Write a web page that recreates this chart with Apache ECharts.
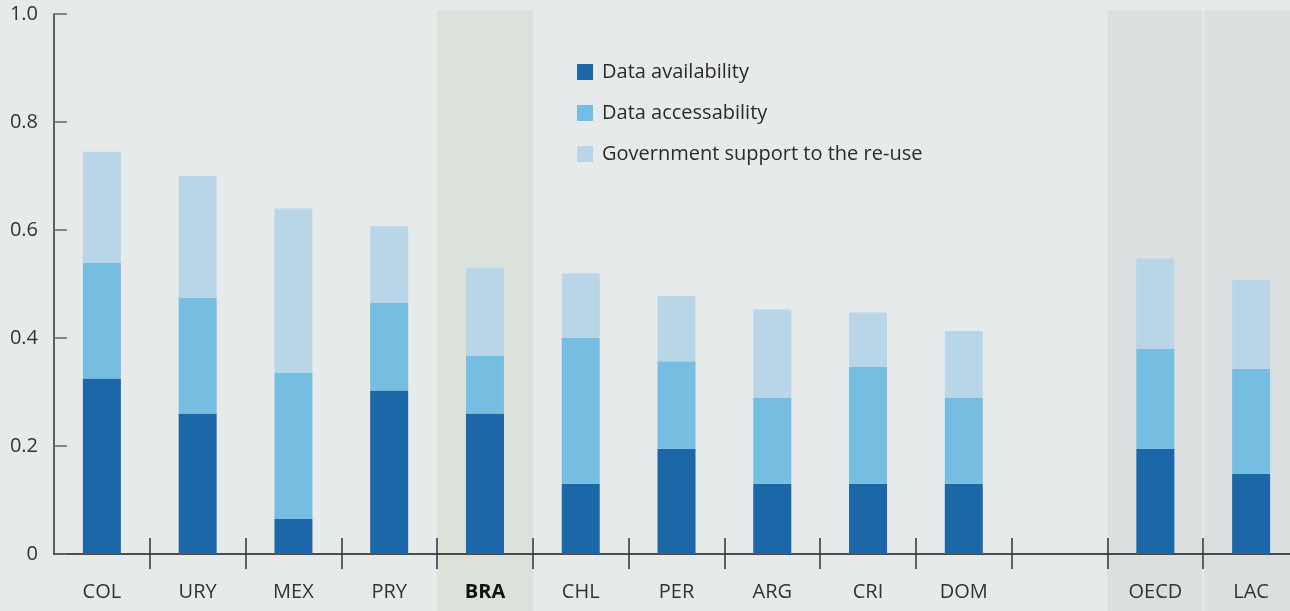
<!DOCTYPE html>
<html>
<head>
<meta charset="utf-8">
<script src="https://cdn.jsdelivr.net/npm/echarts@6/dist/echarts.min.js"></script>
<style>
  html, body { margin: 0; padding: 0; background: #e6eaeb; overflow: hidden; }
  /* plot runs a few pixels past the right edge, as in the original */
  #chart { width: 1299px; height: 611px; }
</style>
</head>
<body>
<div id="chart"></div>
<script>
  // categories (empty slot separates countries from the averages)
  var countries = ['COL', 'URY', 'MEX', 'PRY', 'BRA', 'CHL', 'PER', 'ARG', 'CRI', 'DOM', '', 'OECD', 'LAC'];
  var availability = [0.325, 0.26, 0.065, 0.303, 0.26, 0.13, 0.195, 0.13, 0.13, 0.13, null, 0.195, 0.148];
  var accessability = [0.215, 0.215, 0.27, 0.162, 0.107, 0.27, 0.162, 0.16, 0.217, 0.16, null, 0.185, 0.195];
  var support = [0.205, 0.225, 0.305, 0.142, 0.163, 0.12, 0.121, 0.163, 0.10, 0.123, null, 0.167, 0.165];
  var yTicks = [0, 0.2, 0.4, 0.6, 0.8, 1.0];

  var font = '"Open Sans", "Noto Sans", sans-serif';
  var colors = ['#1b67a8', '#76bde2', '#b8d6e8'];

  var chart = echarts.init(document.getElementById('chart'));

  var option = {
    backgroundColor: '#e6eaeb',
    animation: false,
    color: colors,
    textStyle: { fontFamily: font },
    grid: { left: 54, right: 0, top: 14, bottom: 57 },
    legend: {
      orient: 'vertical',
      left: 577,
      top: 62,
      padding: 0,
      itemWidth: 16,
      itemHeight: 16,
      itemGap: 21,
      icon: 'rect',
      textStyle: { fontSize: 20, color: '#2b2b2b', fontFamily: font, padding: [0, 0, 0, 4] },
      data: ['Data availability', 'Data accessability', 'Government support to the re-use']
    },
    xAxis: [
      {
        type: 'category',
        data: countries,
        boundaryGap: true,
        axisLine: { show: true, lineStyle: { color: '#1a1a1a', width: 1.5 } },
        axisTick: {
          show: true, length: 15, lineStyle: { color: '#333', width: 1.5 },
          interval: function (i) { return i !== 0; }
        },
        axisLabel: {
          interval: 0,
          margin: 28,
          fontSize: 20,
          color: '#333',
          fontFamily: font,
          formatter: function (v) { return v === 'BRA' ? '{b|' + v + '}' : v; },
          rich: { b: { fontSize: 20, fontWeight: 'bold', color: '#111', fontFamily: font } }
        }
      },
      {
        type: 'category',
        data: countries,
        position: 'bottom',
        boundaryGap: true,
        axisLine: { show: false },
        axisTick: {
          show: true, inside: true, length: 16, lineStyle: { color: '#333', width: 1.5 },
          interval: function (i) { return i !== 0; }
        },
        axisLabel: { show: false }
      }
    ],
    yAxis: {
      type: 'value',
      min: 0,
      max: 1,
      interval: 0.2,
      splitLine: { show: false },
      axisLine: { show: true, lineStyle: { color: '#333', width: 1.5 } },
      axisTick: { show: true, inside: true, length: 13, lineStyle: { color: '#666', width: 1.5 } },
      axisLabel: {
        margin: 16,
        fontSize: 20,
        color: '#333',
        fontFamily: font,
        formatter: function (v) { return v === 0 ? '0' : v.toFixed(1); }
      }
    },
    series: [
      { name: 'Data availability', type: 'bar', stack: 'total', barWidth: 38, data: availability, z: 3 },
      { name: 'Data accessability', type: 'bar', stack: 'total', barWidth: 38, data: accessability, z: 3 },
      { name: 'Government support to the re-use', type: 'bar', stack: 'total', barWidth: 38, data: support, z: 3 }
    ]
  };

  chart.setOption(option);

  // highlight bands behind BRA, OECD and LAC, placed from the category axis
  var c0 = chart.convertToPixel({ xAxisIndex: 0 }, countries[0]);
  var c1 = chart.convertToPixel({ xAxisIndex: 0 }, countries[1]);
  var step = c1 - c0;
  function band(cat, fill, padL, padR) {
    var cx = chart.convertToPixel({ xAxisIndex: 0 }, cat);
    return {
      type: 'rect',
      z: -10,
      silent: true,
      shape: { x: cx - step / 2 + padL, y: 10, width: step - padL - padR, height: 611 },
      style: { fill: fill }
    };
  }
  chart.setOption({
    graphic: [
      band('BRA', '#dbe2dc', 0, 0),
      band('OECD', '#dcdfe0', 0, 1),
      band('LAC', '#dcdfe0', 1, 0)
    ]
  });
</script>
</body>
</html>
